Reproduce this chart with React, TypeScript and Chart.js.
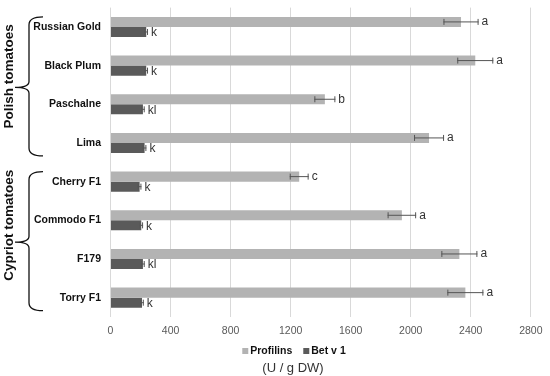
import React, { useEffect, useRef } from "react";
import { Chart, registerables } from "chart.js";

Chart.register(...registerables);

const categories = ["Russian Gold", "Black Plum", "Paschalne", "Lima", "Cherry F1", "Commodo F1", "F179", "Torry F1"];
const profilins = [2335, 2430, 1428, 2122, 1257, 1941, 2324, 2364];
const profilinsErr = [117, 120, 70, 100, 63, 95, 120, 120];
const profilinsLetters = ["a", "a", "b", "a", "c", "a", "a", "a"];
const betv1 = [238, 238, 216, 227, 194, 205, 216, 210];
const betv1Err = [12, 12, 12, 12, 12, 12, 12, 12];
const betv1Letters = ["k", "k", "kl", "k", "k", "k", "kl", "k"];
const groups = [
  { label: "Polish tomatoes", from: 0, to: 3 },
  { label: "Cypriot tomatoes", from: 4, to: 7 },
];
const xTicks = [0, 400, 800, 1200, 1600, 2000, 2400, 2800];
const unitLabel = "(U / g DW)";

const FONT = "'Liberation Sans', Arial, sans-serif";

const overlayPlugin = {
  id: "overlay",
  afterDatasetsDraw(chart: any) {
    const ctx = chart.ctx;
    const x = chart.scales.x;
    const sets = [
      { err: profilinsErr, letters: profilinsLetters, vals: profilins },
      { err: betv1Err, letters: betv1Letters, vals: betv1 },
    ];
    ctx.save();
    sets.forEach((s, di) => {
      const meta = chart.getDatasetMeta(di);
      meta.data.forEach((bar: any, i: number) => {
        const y = bar.y;
        const x0 = x.getPixelForValue(s.vals[i] - s.err[i]);
        const x1 = x.getPixelForValue(s.vals[i] + s.err[i]);
        ctx.strokeStyle = "#555";
        ctx.lineWidth = 1;
        ctx.beginPath();
        ctx.moveTo(x0, y);
        ctx.lineTo(x1, y);
        ctx.moveTo(x0 + 0.5, y - 3);
        ctx.lineTo(x0 + 0.5, y + 3);
        ctx.moveTo(x1 - 0.5, y - 3);
        ctx.lineTo(x1 - 0.5, y + 3);
        ctx.stroke();
        ctx.fillStyle = "#333";
        ctx.font = `12px ${FONT}`;
        ctx.textAlign = "left";
        ctx.textBaseline = "middle";
        ctx.fillText(s.letters[i], x1 + 3, y + (di === 1 ? 1 : 0));
      });
    });
    ctx.restore();
  },
  afterDraw(chart: any) {
    const ctx = chart.ctx;
    const yS = chart.scales.y;
    ctx.save();
    groups.forEach((g, gi) => {
      const top = yS.getPixelForValue(g.from) - 10;
      const bottom = yS.getPixelForValue(g.to) + 13;
      const mid = (top + bottom) / 2 + 1;
      const xe = 43, xv = 29, xc = 15;
      ctx.strokeStyle = "#111";
      ctx.lineWidth = 1.3;
      ctx.beginPath();
      ctx.moveTo(xe, top);
      ctx.quadraticCurveTo(xv, top, xv, top + 8);
      ctx.lineTo(xv, mid - 6);
      ctx.quadraticCurveTo(xv, mid, xc, mid);
      ctx.quadraticCurveTo(xv, mid, xv, mid + 6);
      ctx.lineTo(xv, bottom - 8);
      ctx.quadraticCurveTo(xv, bottom, xe, bottom);
      ctx.stroke();
      ctx.save();
      ctx.translate(9, mid - (gi === 0 ? 11 : 17));
      ctx.rotate(-Math.PI / 2);
      ctx.fillStyle = "#111";
      ctx.font = `bold 13.5px ${FONT}`;
      ctx.textAlign = "center";
      ctx.textBaseline = "middle";
      ctx.fillText(g.label, 0, 0);
      ctx.restore();
    });

    // legend
    const ly = 351;
    ctx.font = `bold 10.5px ${FONT}`;
    ctx.textBaseline = "middle";
    ctx.textAlign = "left";
    const items = chart.data.datasets.map((d: any) => ({ label: d.label, color: d.backgroundColor, w: ctx.measureText(d.label).width }));
    const sq = 6, gapAfterSq = 2, gapItems = 11;
    const total = items.reduce((a: number, it: any) => a + sq + gapAfterSq + it.w, 0) + gapItems * (items.length - 1);
    let lx = 294 - total / 2;
    items.forEach((it: any) => {
      ctx.fillStyle = it.color;
      ctx.fillRect(lx, ly - sq / 2, sq, sq);
      lx += sq + gapAfterSq;
      ctx.fillStyle = "#111";
      ctx.fillText(it.label, lx, ly);
      lx += it.w + gapItems;
    });

    // unit title
    ctx.font = `13px ${FONT}`;
    ctx.fillStyle = "#333";
    ctx.textAlign = "center";
    ctx.fillText(unitLabel, 293, 368);
    ctx.restore();
  },
};

export default function App() {
  const ref = useRef<HTMLCanvasElement>(null);
  useEffect(() => {
    document.body.style.margin = "0";
    const chart = new Chart(ref.current!, {
      type: "bar",
      data: {
        labels: categories,
        datasets: [
          { label: "Profilins", data: profilins, backgroundColor: "#b3b3b3", categoryPercentage: 0.52, barPercentage: 1 },
          { label: "Bet v 1", data: betv1, backgroundColor: "#5a5a5a", categoryPercentage: 0.52, barPercentage: 1 },
        ],
      },
      options: {
        indexAxis: "y",
        animation: false,
        responsive: false,
        layout: { padding: { top: 7.6, right: 14, left: 0, bottom: 34 } },
        scales: {
          x: {
            min: 0,
            max: 2800,
            afterBuildTicks: (s: any) => { s.ticks = xTicks.map((v) => ({ value: v })); },
            grid: { color: "#d9d9d9", drawTicks: false, tickLength: 0 },
            border: { display: false },
            ticks: { color: "#595959", font: { family: FONT, size: 10.5 }, padding: 7.5, callback: (v: any) => String(v) },
            afterFit: (s: any) => { s.height = 25; s.paddingTop = 0; s.paddingBottom = 0; },
          },
          y: {
            grid: { display: false, drawTicks: false, tickLength: 0 },
            border: { display: false },
            ticks: { color: "#111", font: { family: FONT, size: 10.5, weight: "bold" }, padding: 9.5 },
            afterFit: (s: any) => { s.width = 110.5; s.paddingTop = 0; s.paddingBottom = 0; },
          },
        },
        plugins: {
          legend: { display: false },
          title: { display: false },
          tooltip: { enabled: false },
        },
      },
      plugins: [overlayPlugin],
    } as any);
    return () => chart.destroy();
  }, []);
  return <canvas ref={ref} width={550} height={376} style={{ display: "block" }} />;
}
